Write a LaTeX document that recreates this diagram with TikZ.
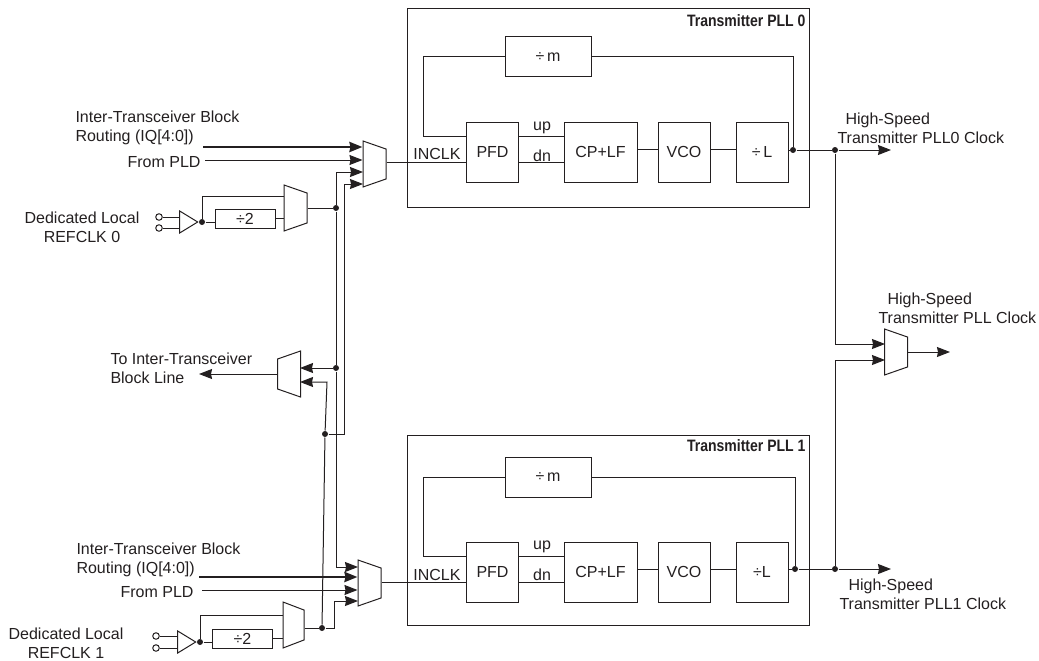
\documentclass[tikz,border=0pt]{standalone}
\usepackage{fontspec}
\setmainfont{Liberation Sans}
\newfontfamily\titlefont[FakeStretch=0.85]{Liberation Sans}
\usetikzlibrary{arrows.meta,shapes.geometric}
\definecolor{ink}{HTML}{231F20}

\begin{document}
\begin{tikzpicture}[x=1pt,y=-1pt,>={Stealth[length=13pt,width=10pt,inset=1pt]},
                    line width=1pt,draw=ink,text=ink,
                    font=\fontsize{16}{19}\selectfont]

  \tikzstyle{every node}=[inner sep=0pt]
  \tikzstyle{block}=[rectangle,draw,minimum width=52pt,minimum height=60pt]
  \tikzstyle{frame}=[rectangle,draw,minimum width=402pt]
  \tikzstyle{divm}=[rectangle,draw,minimum width=86pt,minimum height=40pt]
  \tikzstyle{divtwo}=[rectangle,draw,minimum width=60pt,minimum height=19pt]
  \tikzstyle{title}=[anchor=east,font=\titlefont\bfseries\fontsize{16.5}{18}\selectfont]
  \tikzstyle{mux}=[trapezium,draw,inner sep=1pt,shape border rotate=270,trapezium left angle=75,
                   trapezium right angle=75,trapezium stretches=true,
                   minimum width=46pt,minimum height=23pt]
  \tikzstyle{muxout}=[mux,shape border rotate=90]
  \tikzstyle{buf}=[isosceles triangle,draw,inner sep=1pt,isosceles triangle stretches=true,
                   minimum width=22pt,minimum height=18pt,anchor=apex]
  \tikzstyle{dot}=[circle,fill=ink,minimum size=6pt]
  \tikzstyle{term}=[circle,draw,minimum size=6.5pt]

  \useasboundingbox (0,0) rectangle (1039,661);

  % transmitter PLL 0
  \node[frame,minimum height=198pt] (pll0) at (608,108) {};
  \node[title] (title0) at (806,21) {Transmitter PLL 0};
  \node[divm] (divm0) at (548,57) {÷\,m};
  \node[block] (pfd0) at (492.5,152) {PFD};
  \node[block,minimum width=73pt] (cplf0) [right of=pfd0,node distance=108pt] {CP+LF};
  \node[block] (vco0) [right of=cplf0,node distance=83.5pt] {VCO};
  \node[block] (divl0) [right of=vco0,node distance=78pt] {÷\,L};

  % transmitter PLL 1
  \node[frame,minimum height=190pt] (pll1) at (608,530) {};
  \node[title] (title1) at (806,446) {Transmitter PLL 1};
  \node[divm] (divm1) at (548,477) {÷\,m};
  \node[block] (pfd1) at (492.5,572) {PFD};
  \node[block,minimum width=73pt] (cplf1) [right of=pfd1,node distance=108pt] {CP+LF};
  \node[block] (vco1) [right of=cplf1,node distance=83.5pt] {VCO};
  \node[block] (divl1) [right of=vco1,node distance=78pt] {÷L};

  % muxes
  \node[mux] (muxa) at (374.5,164) {};
  \node[mux] (muxd) at (369.5,583) {};
  \node[mux] (muxe) at (896,352) {};
  \node[mux,minimum height=21pt] (muxb1) at (293.5,625) {};
  \node[mux] (muxb0) at (295.5,208) {};
  \node[muxout] (muxc) at (289,374) {};

  % clock inputs
  \node[term] (ref0a) at (159,217) {};
  \node[term] (ref0b) at (159,228) {};
  \node[term] (ref1a) at (156,636) {};
  \node[term] (ref1b) at (156,648) {};
  \node[buf] (buf0) at (199,222) {};
  \node[buf] (buf1) at (197,642) {};
  \node[dot] (dotbuf0) at (202,222) {};
  \node[dot] (dotbuf1) at (200,642) {};
  \node[divtwo] (divtwo0) at (245,218.5) {÷2};
  \node[divtwo] (divtwo1) at (242.5,638.5) {÷2};

  % junctions
  \node[dot] (dotb0) at (336,208) {};
  \node[dot] (dotc0) at (336,368) {};
  \node[dot] (dotd0) at (325,434) {};
  \node[dot] (dote0) at (322,628) {};
  \node[dot] (dotl0) at (793,150) {};
  \node[dot] (dotl1) at (795,569) {};
  \node[dot] (dotr0) at (835,150) {};
  \node[dot] (dotr1) at (835,569) {};

  % pins
  \coordinate (thick0) at (203,147);
  \coordinate (thick1) at (199,577);
  \coordinate (pld0) at (205,160);
  \coordinate (pld1) at (202,590);
  \coordinate (ina3) at (363,172);
  \coordinate (ina4) at (363,184);
  \coordinate (ind1) at (358,567);
  \coordinate (ind4) at (358,601);
  \coordinate (inc1) at (300,368);
  \coordinate (inc2) at (300,382);
  \coordinate (ine1) at (885,344);
  \coordinate (ine2) at (885,360);
  \coordinate (bendc) at (327,382);
  \coordinate (bendd) at (344,434);
  \coordinate (bende) at (334,628);
  \coordinate (fbc0) at (423,136);
  \coordinate (fbc1) at (423,556);
  \coordinate (up0) at (518,136);
  \coordinate (up1) at (518,556);
  \coordinate (inclk0) at (467,162);
  \coordinate (inclk1) at (467,582);
  \coordinate (mid0) at (637,149);
  \coordinate (mid1) at (637,569);
  \coordinate (out0) at (891,150);
  \coordinate (out1) at (891,569);
  \coordinate (oute) at (950,352);
  \coordinate (outc) at (199,374);
  \coordinate (top0) at (202,196);
  \coordinate (top1) at (200,615);

  % left side
  \draw[->,line width=2.8pt] (thick0) -- (muxa.west |- thick0);
  \draw[->,line width=2.8pt] (thick1) -- (muxd.west |- thick1);
  \draw[->] (pld0) -- (muxa.west |- pld0);
  \draw[->] (pld1) -- (muxd.west |- pld1);
  \draw[->] (dotb0) |- (ina3);
  \draw[->] (dotd0) -- (bendd) |- (ina4);
  \draw[->] (dotc0) |- (ind1);
  \draw[->] (dote0) -- (bende) |- (ind4);
  \draw (dotb0) -- (dotc0);
  \draw (dotd0) -- (dote0);
  \draw[->] (dotc0) -- (inc1);
  \draw[->] (dotd0) -- (bendc) -- (inc2);
  \draw[->] (muxc.west) -- (outc);
  \draw (muxb0.east) -- (dotb0);
  \draw (muxb1.east |- dote0) -- (dote0);

  \draw (ref0a) -- (buf0.lower side |- ref0a);
  \draw (ref0b) -- (buf0.lower side |- ref0b);
  \draw (ref1a) -- (buf1.lower side |- ref1a);
  \draw (ref1b) -- (buf1.lower side |- ref1b);
  \draw (dotbuf0) -- (divtwo0.west |- dotbuf0);
  \draw (dotbuf1) -- (divtwo1.west |- dotbuf1);
  \draw (dotbuf0) -- (top0) -- (muxb0.west |- top0);
  \draw (dotbuf1) -- (top1) -- (muxb1.west |- top1);
  \draw (divtwo0.east) -- (muxb0.west |- divtwo0.east);
  \draw (divtwo1.east) -- (muxb1.west |- divtwo1.east);

  % inside the PLLs
  \draw (muxa.east |- inclk0) -- (inclk0);
  \draw (muxd.east |- inclk1) -- (inclk1);
  \draw (divm0.west) -| (fbc0) -- (pfd0.west |- fbc0);
  \draw (divm1.west) -| (fbc1) -- (pfd1.west |- fbc1);
  \draw (divm0.east) -| (dotl0);
  \draw (divm1.east) -| (dotl1);
  \draw (up0) -- (cplf0.west |- up0);
  \draw (up1) -- (cplf1.west |- up1);
  \draw (pfd0.east |- inclk0) -- (cplf0.west |- inclk0);
  \draw (pfd1.east |- inclk1) -- (cplf1.west |- inclk1);
  \draw (mid0) -- (vco0.west |- mid0);
  \draw (mid1) -- (vco1.west |- mid1);
  \draw (vco0.east |- mid0) -- (divl0.west |- mid0);
  \draw (vco1.east |- mid1) -- (divl1.west |- mid1);
  \draw (divl0.east |- dotl0) -- (dotl0);
  \draw (divl1.east |- dotl1) -- (dotl1);

  % right side
  \draw (dotl0) -- (dotr0);
  \draw (dotl1) -- (dotr1);
  \draw[->] (dotr0) -- (out0);
  \draw[->] (dotr1) -- (out1);
  \draw[->] (dotr0) |- (ine1);
  \draw[->] (dotr1) |- (ine2);
  \draw[->] (muxe.east) -- (oute);

  % labels
  \node (uplabel0) at (542,128) {up};
  \node (dnlabel0) at (542,156) {dn};
  \node (uplabel1) at (542,547) {up};
  \node (dnlabel1) at (542,575) {dn};
  \node (inclklabel0) at (437,154) {INCLK};
  \node (inclklabel1) at (437,575) {INCLK};
  \node[anchor=west,align=left] (iqlabel0) at (75,128) {Inter-Transceiver Block\\Routing (IQ[4:0])};
  \node[anchor=west,align=left] (iqlabel1) at (76,560) {Inter-Transceiver Block\\Routing (IQ[4:0])};
  \node[anchor=east] (pldlabel0) at (201,162) {From PLD};
  \node[anchor=east] (pldlabel1) at (194,592) {From PLD};
  \node[align=center] (reflabel0) at (82,227) {Dedicated Local\\REFCLK 0};
  \node[align=center] (reflabel1) at (66,643) {Dedicated Local\\REFCLK 1};
  \node[anchor=west,align=left] (linelabel) at (110,368) {To Inter-Transceiver\\\hspace*{0pt}Block Line};
  \node[anchor=west,align=left] (hslabel0) at (837,128) {\hspace*{8pt}High-Speed\\Transmitter PLL0 Clock};
  \node[anchor=west,align=left] (hslabel1) at (839,594) {\hspace*{9pt}High-Speed\\Transmitter PLL1 Clock};
  \node[anchor=west,align=left] (hslabel) at (878,308) {\hspace*{9pt}High-Speed\\Transmitter PLL Clock};
\end{tikzpicture}
\end{document}
